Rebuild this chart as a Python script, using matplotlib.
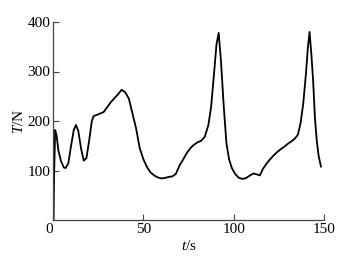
import numpy as np
import matplotlib
matplotlib.use('Agg')
import matplotlib.pyplot as plt

# tension record
t_s = [0.3, 0.6, 1.2, 2.0, 3.0, 4.5, 6.0, 7.0, 8.5, 10.0, 11.5, 12.7, 14.0, 15.5,
       17.0, 18.5, 20.0, 21.5, 22.5, 24, 26, 28, 30, 32, 34, 36, 38, 40, 42, 44,
       46, 48, 50, 52, 54, 56, 58, 60, 62, 64, 66, 68, 70, 72, 74, 76, 78, 80,
       82, 84, 86, 87.5, 89, 90.5, 91.7, 93, 94.5, 96, 97.5, 99, 101, 103, 105,
       107, 109, 111, 113, 114.5, 116, 118, 120, 122, 124, 126, 128, 130, 132,
       134, 135.5, 137, 138.5, 140, 141, 142, 143, 144, 145, 146, 147, 148.3]
T_N = [0, 90, 182, 170, 140, 118, 106, 105, 115, 150, 182, 192, 180, 145,
       120, 125, 160, 200, 210, 212, 215, 218, 228, 238, 246, 254, 263, 258, 245, 215,
       185, 145, 123, 107, 96, 90, 86, 84, 85, 87, 88, 93, 110, 122, 135, 145, 152, 157,
       160, 168, 192, 228, 290, 355, 378, 320, 230, 155, 122, 105, 92, 85, 83,
       85, 90, 94, 92, 90, 102, 113, 122, 130, 137, 143, 148, 154, 159,
       165, 172, 195, 235, 295, 345, 380, 335, 280, 205, 160, 130, 108]

xticks = [0, 50, 100, 150]
yticks = [100, 200, 300, 400]

plt.rcParams['font.family'] = 'Liberation Serif'
plt.rcParams['mathtext.fontset'] = 'custom'
plt.rcParams['mathtext.rm'] = 'Liberation Serif'
plt.rcParams['mathtext.it'] = 'Liberation Serif:italic'

fig = plt.figure(figsize=(3.64, 2.56), dpi=100)
ax = fig.add_axes([53 / 364, 36 / 256, 271 / 364, 198 / 256])

ax.plot(t_s, T_N, color='black', lw=1.3)

ax.set_xlim(0, 150)
ax.set_ylim(0, 400)
ax.set_xticks(xticks)
ax.set_yticks(yticks)
for s in ['top', 'right']:
	ax.spines[s].set_visible(False)
for s in ['left', 'bottom']:
	ax.spines[s].set_color('#444444')
	ax.spines[s].set_linewidth(0.9)
ax.tick_params(direction='in', length=4, width=0.8, color='#444444',
               labelsize=11, pad=2)
ax.get_xticklabels()[0].set_horizontalalignment('right')

ax.set_xlabel(r'$t$/s', fontsize=11, labelpad=2)
ax.set_ylabel(r'$T$/N', fontsize=11, labelpad=1)

fig.savefig('out.png', dpi=100)
